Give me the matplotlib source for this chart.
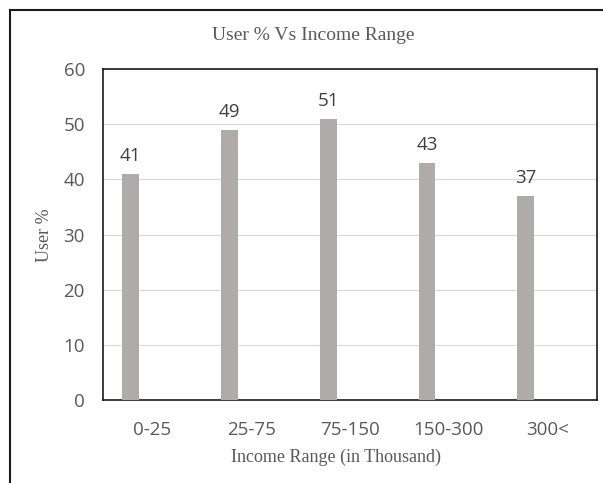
import matplotlib.pyplot as plt
import numpy as np
from matplotlib.lines import Line2D

# Data
categories = ["0-25", "25-75", "75-150", "150-300", "300<"]
user_pct = [41, 49, 51, 43, 37]
y_ticks = [0, 10, 20, 30, 40, 50, 60]

BAR_COLOR = "#AFABAB"
TEXT_COLOR = "#595959"
W, H = 603, 483

fig = plt.figure(figsize=(W / 100, H / 100), dpi=100)
fig.patch.set_facecolor("white")

# outer chart frame (only top and left edges are visible in the crop)
fig.add_artist(Line2D([10 / W, 1.0], [1 - 10 / H, 1 - 10 / H], color="#1a1a1a", lw=1.5,
                      transform=fig.transFigure))
fig.add_artist(Line2D([10 / W, 10 / W], [0.0, 1 - 10 / H], color="#1a1a1a", lw=1.5,
                      transform=fig.transFigure))

ax = fig.add_axes([103 / W, 1 - 400 / H, (597 - 103) / W, (400 - 69) / H])

x = np.arange(len(categories))
bars = ax.bar(x - 0.22, user_pct, width=0.17, color=BAR_COLOR, zorder=3)

# data labels
for xi, v in zip(x, user_pct):
    ax.text(xi - 0.22, v + 1.6, str(v), ha="center", va="bottom",
            fontsize=13.5, color="#404040", family="Open Sans")

ax.set_xlim(-0.5, len(categories) - 0.5)
ax.set_ylim(0, 60)
ax.set_yticks(y_ticks)
ax.set_xticks(x)
ax.set_xticklabels(categories)
ax.tick_params(length=0, labelsize=13.5, labelcolor=TEXT_COLOR)
ax.tick_params(axis="y", pad=13)
ax.tick_params(axis="x", pad=15)
for lab in ax.get_xticklabels() + ax.get_yticklabels():
    lab.set_family("Open Sans")
ax.yaxis.grid(True, color="#D9D9D9", lw=0.8, zorder=0)
ax.set_axisbelow(True)
for s in ax.spines.values():
    s.set_color("#1a1a1a")
    s.set_linewidth(1.2)

fig.text(313 / W, 1 - 35 / H, "User % Vs Income Range", ha="center", va="center",
         fontsize=14, color=TEXT_COLOR, family="Liberation Serif")
fig.text(45 / W, 1 - 235 / H, "User %", ha="center", va="center", rotation=90,
         fontsize=13, color=TEXT_COLOR, family="Liberation Serif")
fig.text(336 / W, 1 - 457 / H, "Income Range (in Thousand)", ha="center", va="center",
         fontsize=13, color=TEXT_COLOR, family="Liberation Serif")

fig.savefig("out.png", dpi=100)
